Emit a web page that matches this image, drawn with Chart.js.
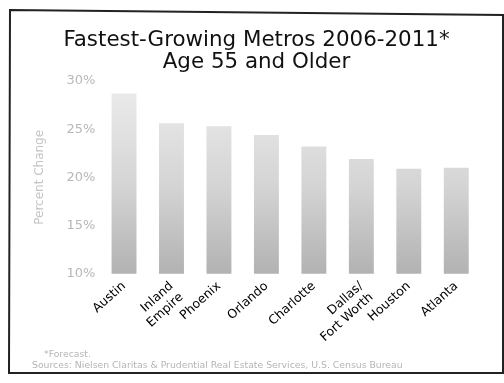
<!DOCTYPE html>
<html>
<head>
<meta charset="utf-8">
<script src="https://cdn.jsdelivr.net/npm/chart.js@4.4.0/dist/chart.umd.min.js"></script>
<style>
html,body{margin:0;padding:0;background:#fff;}
#wrap{width:504px;height:383px;position:relative;}
</style>
</head>
<body>
<div id="wrap"><canvas id="c" width="504" height="383"></canvas></div>
<script>
const categories = ["Austin", ["Inland", "Empire"], "Phoenix", "Orlando", "Charlotte", ["Dallas/", "Fort Worth"], "Houston", "Atlanta"];
const growthPct = [28.7, 25.6, 25.3, 24.4, 23.2, 21.9, 20.9, 21.0];
const yTicks = [10, 15, 20, 25, 30];
const titleLines = ["Fastest-Growing Metros 2006-2011*", "Age 55 and Older"];
const footLines = ["*Forecast.", "Sources: Nielsen Claritas & Prudential Real Estate Services, U.S. Census Bureau"];

const framePlugin = {
  id: 'frame',
  afterDraw(chart) {
    const ctx = chart.ctx;
    ctx.save();
    ctx.strokeStyle = '#222';
    ctx.lineWidth = 2;
    ctx.beginPath();
    ctx.moveTo(10, 10);
    ctx.lineTo(503, 15);
    ctx.lineTo(503, 373);
    ctx.lineTo(9, 373);
    ctx.closePath();
    ctx.stroke();
    ctx.fillStyle = '#b5b5b5';
    ctx.font = '9.3px "DejaVu Sans"';
    ctx.textAlign = 'left';
    ctx.textBaseline = 'alphabetic';
    ctx.fillText(footLines[0], 44, 357);
    ctx.fillText(footLines[1], 32, 368);
    ctx.restore();
  }
};

function barFill(context) {
  const chart = context.chart;
  const area = chart.chartArea;
  if (!area) return '#c8c8c8';
  const g = chart.ctx.createLinearGradient(0, area.top, 0, area.bottom);
  g.addColorStop(0, '#ededed');
  g.addColorStop(0.55, '#d4d4d4');
  g.addColorStop(1, '#b2b2b2');
  return g;
}

new Chart(document.getElementById('c'), {
  type: 'bar',
  data: {
    labels: categories,
    datasets: [{
      data: growthPct,
      backgroundColor: barFill,
      borderWidth: 0,
      barPercentage: 0.525,
      categoryPercentage: 1.0
    }]
  },
  options: {
    responsive: false,
    animation: false,
    layout: { padding: { left: 33, right: 24, top: 29, bottom: 33 } },
    plugins: {
      legend: { display: false },
      tooltip: { enabled: false },
      title: {
        display: true,
        text: titleLines,
        color: '#111',
        font: { family: '"DejaVu Sans"', size: 21.4, weight: 'normal', lineHeight: 1.05 },
        padding: { top: 0, bottom: 7 }
      }
    },
    scales: {
      x: {
        grid: { display: false, drawTicks: false },
        border: { display: false },
        ticks: {
          color: '#000',
          font: { family: '"DejaVu Sans"', size: 12.5 },
          minRotation: 42,
          maxRotation: 42,
          autoSkip: false,
          padding: 5
        }
      },
      y: {
        min: 10,
        max: 30,
        afterBuildTicks(axis) { axis.ticks = yTicks.map(v => ({ value: v })); },
        grid: { display: false, drawTicks: false },
        border: { display: false },
        ticks: {
          color: '#b8b8b8',
          font: { family: '"DejaVu Sans"', size: 13 },
          padding: 5,
          callback: v => v + '%'
        },
        title: {
          display: true,
          text: 'Percent Change',
          color: '#c4c4c4',
          font: { family: '"DejaVu Sans"', size: 12 },
          padding: { top: 0, bottom: 14 }
        }
      }
    }
  },
  plugins: [framePlugin]
});
</script>
</body>
</html>
